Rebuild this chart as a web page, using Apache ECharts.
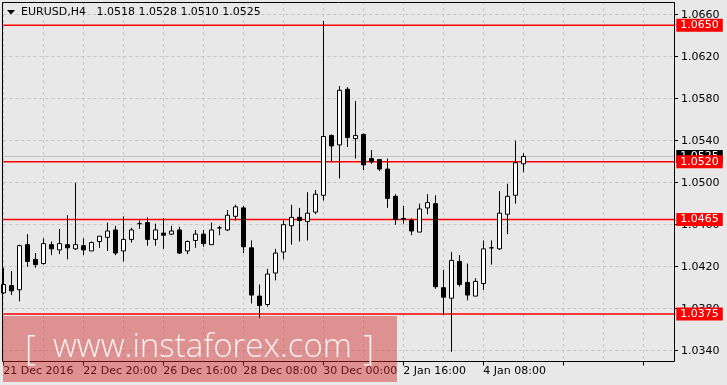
<!DOCTYPE html>
<html><head><meta charset="utf-8">
<script src="https://cdn.jsdelivr.net/npm/echarts@6/dist/echarts.min.js"></script>
<style>html,body{margin:0;padding:0;background:#e8e8e8}#c{width:727px;height:385px}</style>
</head><body><div id="c"></div>
<script>
const times = ["21 Dec 2016","21 Dec 08:00","21 Dec 12:00","21 Dec 16:00","21 Dec 20:00",
"22 Dec 00:00","22 Dec 04:00","22 Dec 08:00","22 Dec 12:00","22 Dec 16:00","22 Dec 20:00",
"23 Dec 00:00","23 Dec 04:00","23 Dec 08:00","23 Dec 12:00","23 Dec 16:00",
"26 Dec 00:00","26 Dec 04:00","26 Dec 08:00","26 Dec 12:00","26 Dec 16:00","26 Dec 20:00",
"27 Dec 00:00","27 Dec 04:00","27 Dec 08:00","27 Dec 12:00","27 Dec 16:00","27 Dec 20:00",
"28 Dec 00:00","28 Dec 04:00","28 Dec 08:00","28 Dec 12:00","28 Dec 16:00","28 Dec 20:00",
"29 Dec 00:00","29 Dec 04:00","29 Dec 08:00","29 Dec 12:00","29 Dec 16:00","29 Dec 20:00",
"30 Dec 00:00","30 Dec 04:00","30 Dec 08:00","30 Dec 12:00","30 Dec 16:00","30 Dec 20:00",
"2 Jan 00:00","2 Jan 04:00","2 Jan 08:00","2 Jan 12:00","2 Jan 16:00","2 Jan 20:00",
"3 Jan 00:00","3 Jan 04:00","3 Jan 08:00","3 Jan 12:00","3 Jan 16:00","3 Jan 20:00",
"4 Jan 00:00","4 Jan 04:00","4 Jan 08:00","4 Jan 12:00","4 Jan 16:00","4 Jan 20:00",
"5 Jan 00:00","5 Jan 04:00"];
const opens  = [1.0395,1.0402,1.0398,1.0441,1.0427,1.0423,1.0441,1.0436,1.0441,1.0437,
1.0440,1.0435,1.0444,1.0448,1.0455,1.0435,1.0446,1.0461,1.0462,1.0446,
1.0452,1.0451,1.0455,1.0435,1.0445,1.0451,1.0441,1.0457,1.0455,1.0468,
1.0476,1.0438,1.0392,1.0384,1.0414,1.0434,1.0459,1.0467,1.0463,1.0472,
1.0488,1.0545,1.0536,1.0589,1.0542,1.0546,1.0523,1.0522,1.0513,1.0487,
1.0466,1.0464,1.0453,1.0476,1.0480,1.0400,1.0390,1.0425,1.0405,1.0392,
1.0404,1.0438,1.0437,1.0470,1.0488,1.0518];
const highs  = [1.0419,1.0416,1.0441,1.0451,1.0433,1.0447,1.0444,1.0456,1.0469,1.0500,
1.0447,1.0444,1.0449,1.0462,1.0459,1.0468,1.0457,1.0464,1.0467,1.0461,
1.0466,1.0459,1.0458,1.0445,1.0455,1.0455,1.0462,1.0459,1.0474,1.0479,
1.0478,1.0445,1.0403,1.0418,1.0437,1.0464,1.0479,1.0476,1.0491,1.0493,
1.0654,1.0546,1.0592,1.0591,1.0578,1.0547,1.0531,1.0522,1.0523,1.0489,
1.0478,1.0466,1.0480,1.0489,1.0488,1.0417,1.0434,1.0431,1.0423,1.0409,
1.0445,1.0445,1.0492,1.0499,1.0540,1.0528];
const lows   = [1.0394,1.0393,1.0387,1.0420,1.0419,1.0422,1.0431,1.0432,1.0427,1.0436,
1.0431,1.0435,1.0438,1.0435,1.0431,1.0425,1.0443,1.0456,1.0440,1.0440,
1.0437,1.0450,1.0432,1.0432,1.0438,1.0439,1.0441,1.0450,1.0454,1.0464,
1.0433,1.0385,1.0371,1.0382,1.0407,1.0427,1.0441,1.0444,1.0445,1.0470,
1.0483,1.0520,1.0504,1.0534,1.0523,1.0512,1.0518,1.0511,1.0476,1.0460,
1.0461,1.0450,1.0453,1.0470,1.0399,1.0374,1.0339,1.0401,1.0388,1.0392,
1.0398,1.0422,1.0436,1.0451,1.0480,1.0510];
const closes = [1.0403,1.0397,1.0440,1.0425,1.0422,1.0442,1.0437,1.0442,1.0438,1.0441,
1.0436,1.0443,1.0449,1.0454,1.0433,1.0446,1.0455,1.0461,1.0446,1.0455,
1.0450,1.0454,1.0433,1.0444,1.0451,1.0442,1.0455,1.0457,1.0469,1.0477,
1.0439,1.0393,1.0383,1.0413,1.0433,1.0460,1.0467,1.0464,1.0471,1.0489,
1.0544,1.0535,1.0588,1.0543,1.0545,1.0517,1.0520,1.0513,1.0485,1.0465,
1.0465,1.0454,1.0475,1.0481,1.0401,1.0391,1.0426,1.0403,1.0393,1.0406,
1.0437,1.0438,1.0471,1.0487,1.0519,1.0525];
const yMin = 1.0340, yMax = 1.0660, yStep = 0.0040;
const levels = [1.0650,1.0520,1.0465,1.0375];
const bid = 1.0525;
const symbol = 'EURUSD,H4';

const FONT = 'DejaVu Sans';
const padCount = 19;
const categories = times.concat(Array.from({length: padCount}, (_, i) => ' '.repeat(i + 1)));
const lastCat = categories.length - 1;
const candles = opens.map((o, i) => [o, closes[i], lows[i], highs[i]]);
const last = opens.length - 1;
const titleText = symbol + '   ' + [opens[last], highs[last], lows[last], closes[last]].map(v => v.toFixed(4)).join(' ');
const gridLine = {color: '#c6c6c6', type: [3, 3], width: 1};

function levelSeries(v, lineColor, lineWidth, boxColor, z) {
  return {
    type: 'line', xAxisIndex: 1, yAxisIndex: 1, silent: true, z: z,
    data: [[0, v], [lastCat, v]], symbol: 'none',
    lineStyle: {color: lineColor, width: lineWidth, type: 'solid'},
    emphasis: {disabled: true},
    endLabel: {show: true, distance: 1, formatter: () => v.toFixed(4), color: '#ffffff',
      backgroundColor: boxColor, fontFamily: FONT, fontSize: 11, lineHeight: 12, padding: [1, 4, 0, 4]}
  };
}

const chart = echarts.init(document.getElementById('c'), null, {renderer: 'canvas'});
chart.setOption({
  backgroundColor: '#e8e8e8',
  animation: false,
  grid: [
    {left: 3.3, top: 2, width: 672, height: 359.5},
    {left: 3.3, top: 14.7, width: 672, height: 336}
  ],
  xAxis: [{
    gridIndex: 0, type: 'category', data: categories, boundaryGap: false,
    axisLine: {show: false},
    axisTick: {show: true, interval: 9, length: 4, lineStyle: {color: '#000'}},
    axisLabel: {interval: 9, align: 'left', color: '#000', margin: 4, fontFamily: FONT, fontSize: 11},
    splitLine: {show: true, interval: 4, lineStyle: gridLine}
  }, {
    gridIndex: 1, type: 'category', data: categories, boundaryGap: false,
    axisLine: {show: false}, axisTick: {show: false}, axisLabel: {show: false}, splitLine: {show: false}
  }],
  yAxis: [{
    gridIndex: 0, type: 'value', show: false, min: 0, max: 1, splitLine: {show: false}
  }, {
    gridIndex: 1, type: 'value', position: 'right', offset: -1.3,
    min: yMin, max: yMax, interval: yStep,
    axisLine: {show: false},
    axisTick: {show: true, length: 4, lineStyle: {color: '#000'}},
    axisLabel: {formatter: v => v.toFixed(4), color: '#000', margin: 7, fontFamily: FONT, fontSize: 11},
    splitLine: {show: true, lineStyle: gridLine}
  }],
  series: [levelSeries(bid, '#c0c0c0', 1, '#000000', 1)]
    .concat(levels.map(v => levelSeries(v, '#ff0000', 1.5, '#ff0000', 1)))
    .concat([{
      type: 'candlestick',
      xAxisIndex: 1, yAxisIndex: 1, z: 3,
      data: candles,
      barWidth: 4,
      clip: false,
      itemStyle: {color: '#ffffff', color0: '#000000', borderColor: '#000000', borderColor0: '#000000', borderColorDoji: '#000000', borderWidth: 1}
    }]),
  graphic: [
    {type: 'rect', z: 100, shape: {x: 2.5, y: 2.5, width: 672, height: 359}, style: {fill: 'none', stroke: '#000', lineWidth: 1}},
    {type: 'polygon', z: 100, shape: {points: [[7, 10], [15, 10], [11, 14.5]]}, style: {fill: '#000'}},
    {type: 'text', z: 100, x: 21, y: 12.5, style: {text: titleText, font: '11px "DejaVu Sans"', fill: '#000', verticalAlign: 'middle'}},
    {type: 'rect', z: 110, shape: {x: 3, y: 316, width: 394, height: 66}, style: {fill: 'rgba(210,40,40,0.45)'}},
    {type: 'text', z: 111, x: 25, y: 350, style: {text: '[', font: '300 34px "Open Sans"', fill: 'rgba(255,255,255,0.85)', verticalAlign: 'middle'}},
    {type: 'text', z: 111, x: 53, y: 348, style: {text: 'www.instaforex.com', font: '300 33px "Open Sans"', fill: 'rgba(255,255,255,0.85)', verticalAlign: 'middle'}},
    {type: 'text', z: 111, x: 374, y: 350, style: {text: ']', font: '300 34px "Open Sans"', fill: 'rgba(255,255,255,0.85)', verticalAlign: 'middle', align: 'right'}}
  ]
});
</script></body></html>
